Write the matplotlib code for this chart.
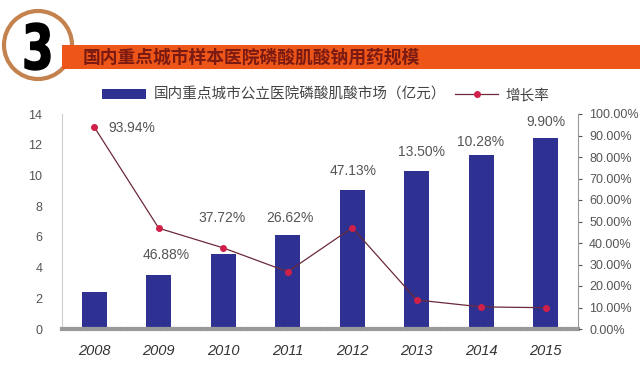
import matplotlib
matplotlib.use("Agg")
import matplotlib.pyplot as plt
from matplotlib.patches import Rectangle, Circle, PathPatch
from matplotlib.textpath import TextPath
from matplotlib.font_manager import FontProperties
from matplotlib.transforms import Affine2D
import numpy as np

plt.rcParams['font.family'] = ['Noto Sans CJK SC', 'DejaVu Sans']

years = ['2008', '2009', '2010', '2011', '2012', '2013', '2014', '2015']
market = [2.4, 3.53, 4.86, 6.15, 9.05, 10.27, 11.33, 12.45]
growth = [93.94, 46.88, 37.72, 26.62, 47.13, 13.50, 10.28, 9.90]
growth_labels = ['93.94%', '46.88%', '37.72%', '26.62%', '47.13%', '13.50%', '10.28%', '9.90%']
label_pos = [(0.58, 13.1), (1.11, 4.8), (1.98, 7.2), (3.03, 7.2),
             (4.01, 10.3), (5.08, 11.5), (5.99, 12.2), (7.0, 13.5)]
title = '国内重点城市样本医院磷酸肌酸钠用药规模'
bar_name = '国内重点城市公立医院磷酸肌酸市场（亿元）'
line_name = '增长率'

W, H = 643, 380
fig = plt.figure(figsize=(W/100, H/100), dpi=100)
fig.patch.set_facecolor('white')

ax = fig.add_axes([62/W, 1-329/H, (578-62)/W, (329-114)/H])
x = np.arange(len(years))
bars = ax.bar(x, market, width=0.39, color='#2f3192', zorder=2, label=bar_name)
ax.set_xlim(-0.5, len(years)-0.5)
ax.set_ylim(0, 14)
ax.set_yticks(range(0, 15, 2))
ax.set_xticks(x)
ax.set_xticklabels(years, fontstyle='italic', fontsize=10.5, color='#333333',
                   family=['Liberation Sans', 'DejaVu Sans'])
for lab in ax.get_yticklabels():
    lab.set_family(['Liberation Sans', 'DejaVu Sans'])
ax.tick_params(axis='y', labelsize=9, colors='#555555', length=0, pad=14)
ax.tick_params(axis='x', length=0, pad=11)
for s in ['top', 'right']:
    ax.spines[s].set_visible(False)
ax.spines['left'].set_color('#cccccc')
ax.spines['bottom'].set_color('#999999')
ax.spines['bottom'].set_linewidth(3)
ax.spines['bottom'].set_linestyle((0, (1, 0.6)))

ax2 = ax.twinx()
line, = ax2.plot(x, growth, color='#6b2a3a', lw=0.9, marker='o', markersize=4,
                 markerfacecolor='#d0204a', markeredgecolor='#d0204a', zorder=3, label=line_name)
ax2.set_ylim(0, 100)
ax2.set_yticks(range(0, 101, 10))
ax2.set_yticklabels(['%.2f%%' % v for v in range(0, 101, 10)],
                    family=['Liberation Sans', 'DejaVu Sans'])
ax2.tick_params(axis='y', labelsize=9, colors='#555555', length=3, direction='out', pad=5)
for s in ['top', 'left', 'bottom']:
    ax2.spines[s].set_visible(False)
ax2.spines['right'].set_color('#999999')
ax2.set_zorder(ax.get_zorder() + 1)
ax2.patch.set_visible(False)

for txt, (px, py) in zip(growth_labels, label_pos):
    ax.text(px, py, txt, ha='center', va='center', fontsize=10, color='#555555',
            family=['Liberation Sans', 'DejaVu Sans'], zorder=5)

# legend
fig.legend(handles=[bars, line], labels=[bar_name, line_name], loc='center',
           bbox_to_anchor=(326/W, 1-95/H), ncol=2, frameon=False, fontsize=10.5,
           handlelength=3.0, columnspacing=0.6, handletextpad=0.5, labelcolor='#444444')

# banner
fig.patches.append(Rectangle((62/W, 1-69/H), (640-62)/W, 24/H, transform=fig.transFigure,
                             facecolor='#ee5518', edgecolor='none', zorder=1))
fig.text(83/W, 1-58/H, title, fontsize=12.8, fontweight='bold', color='#7a1a12',
         va='center', ha='left')

circ_ax = fig.add_axes([0, 1-90/H, 90/W, 90/H])
circ_ax.set_xlim(0, 90)
circ_ax.set_ylim(90, 0)
circ_ax.axis('off')
circ_ax.add_patch(Circle((38, 45), 34, facecolor='white', edgecolor='#c4824e', lw=3, clip_on=False))
tp = TextPath((0, 0), '3', size=50, prop=FontProperties(family='DejaVu Sans', weight='bold'))
ext = tp.get_extents()
sx = 25 / ext.width
sy = 47 / ext.height
tr = Affine2D().translate(-ext.x0, -ext.y0).scale(sx, -sy).translate(25, 70)
circ_ax.add_patch(PathPatch(tr.transform_path(tp), facecolor='black', edgecolor='black', lw=1,
                            clip_on=False))

fig.savefig('out.png', dpi=100, facecolor='white')
